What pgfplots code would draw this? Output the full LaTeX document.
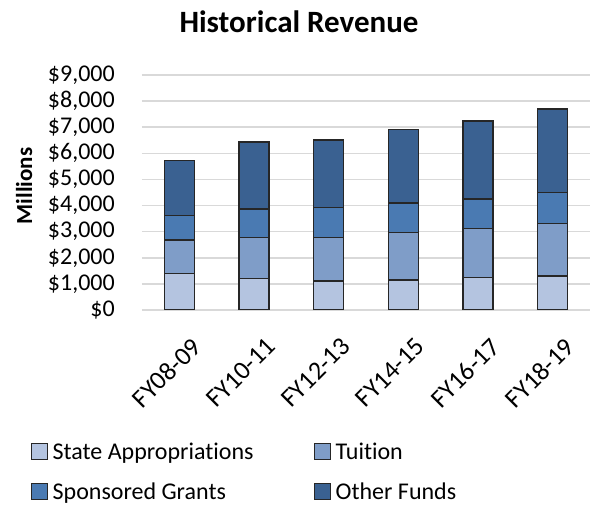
\documentclass[border=0pt]{standalone}
\usepackage{pgfplots}
\pgfplotsset{compat=1.18}
\usepackage{fontspec}
\setmainfont{Carlito}[Ligatures={NoCommon}]
\definecolor{cState}{HTML}{B4C4E0}
\definecolor{cTuition}{HTML}{7F9DC8}
\definecolor{cGrants}{HTML}{4A7AB2}
\definecolor{cOther}{HTML}{3A6191}
\definecolor{cEdge}{HTML}{262626}
\begin{document}
\begin{tikzpicture}
\path[use as bounding box] (0,0) rectangle (598pt,506pt);
\node[font=\fontsize{31}{36}\selectfont\bfseries] at (299pt,484pt) {Historical Revenue};
\begin{axis}[
  at={(142pt,196pt)}, anchor=south west,
  scale only axis, width=448pt, height=235pt,
  ybar stacked, bar width=30pt,
  xmin=-0.5, xmax=5.5, ymin=0, ymax=9000,
  xtick={0,1,2,3,4,5},
  xticklabels={FY08-09,FY10-11,FY12-13,FY14-15,FY16-17,FY18-19},
  ytick={0,1000,2000,3000,4000,5000,6000,7000,8000,9000},
  yticklabels={{\$0},{\$1,000},{\$2,000},{\$3,000},{\$4,000},{\$5,000},{\$6,000},{\$7,000},{\$8,000},{\$9,000}},
  axis line style={draw=none},
  major tick length=0pt,
  ymajorgrids, major grid style={color=black!15, line width=1.5pt},
  ticklabel style={font=\fontsize{24}{28}\selectfont},
  yticklabel style={anchor=east, inner sep=0pt, xshift=-27pt},
  xticklabel style={font=\fontsize{26}{30}\selectfont, inner sep=0pt, xshift=11pt, yshift=-26pt, rotate=45, anchor=north east},
  ylabel={Millions},
  ylabel style={font=\fontsize{23}{28}\selectfont\bfseries, at={(axis description cs:-0.263,0.528)}, anchor=center},
  every axis plot/.append style={draw=cEdge, line width=1.3pt},
  legend columns=2,
  legend cell align=left,
  legend style={draw=none, fill=none, at={(axis description cs:-0.256,-0.547)}, anchor=north west,
    font=\fontsize{24}{28}\selectfont,
    /tikz/every even column/.append style={column sep=58pt},
    row sep=18pt},
  legend image code/.code={\draw[#1, line width=1pt] (0pt,-8pt) rectangle (16pt,8pt); \path (19pt,0pt);},
]
\addplot[fill=cState] coordinates {(0,1406) (1,1213) (2,1111) (3,1149) (4,1252) (5,1303)};
\addplot[fill=cTuition] coordinates {(0,1276) (1,1571) (2,1673) (3,1827) (4,1877) (5,2018)};
\addplot[fill=cGrants] coordinates {(0,946) (1,1086) (2,1136) (3,1124) (4,1124) (5,1187)};
\addplot[fill=cOther] coordinates {(0,2108) (1,2567) (2,2593) (3,2809) (4,2988) (5,3193)};
\legend{State Appropriations, Tuition, Sponsored Grants, Other Funds}
\end{axis}
\end{tikzpicture}
\end{document}
